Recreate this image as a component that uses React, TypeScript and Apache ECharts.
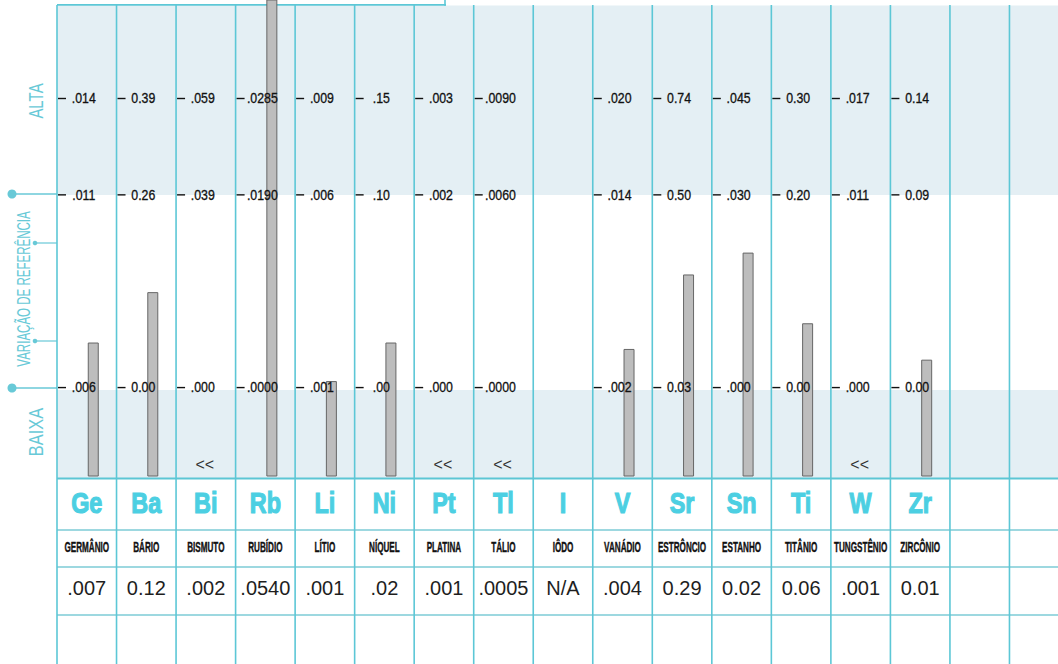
import React, { useEffect, useRef } from "react";
import * as echarts from "echarts";

// ---- data ----
const symbols = ["Ge", "Ba", "Bi", "Rb", "Li", "Ni", "Pt", "Tl", "I", "V", "Sr", "Sn", "Ti", "W", "Zr", "", ""];
const names = ["GERMÂNIO", "BÁRIO", "BISMUTO", "RUBÍDIO", "LÍTIO", "NÍQUEL", "PLATINA", "TÁLIO", "IÔDO", "VANÁDIO", "ESTRÔNCIO", "ESTANHO", "TITÂNIO", "TUNGSTÊNIO", "ZIRCÔNIO", "", ""];
const resultLabels = [".007", "0.12", ".002", ".0540", ".001", ".02", ".001", ".0005", "N/A", ".004", "0.29", "0.02", "0.06", ".001", "0.01", "", ""];
const resultValues: (number | null)[] = [0.007, 0.12, 0.002, 0.054, 0.001, 0.02, 0.001, 0.0005, null, 0.004, 0.29, 0.02, 0.06, 0.001, 0.01, null, null];
const lowLabels = [".006", "0.00", ".000", ".0000", ".001", ".00", ".000", ".0000", "", ".002", "0.03", ".000", "0.00", ".000", "0.00", "", ""];
const midLabels = [".011", "0.26", ".039", ".0190", ".006", ".10", ".002", ".0060", "", ".014", "0.50", ".030", "0.20", ".011", "0.09", "", ""];
const highLabels = [".014", "0.39", ".059", ".0285", ".009", ".15", ".003", ".0090", "", ".020", "0.74", ".045", "0.30", ".017", "0.14", "", ""];
const belowFlags = [false, false, true, false, false, false, true, true, false, false, false, false, false, true, false, false, false];
const sideLabels = ["ALTA", "VARIAÇÃO DE REFERÊNCIA", "BAIXA"];

// ---- scale: each element's reference range normalised (low = 0, mid = 1, high = 1.5) ----
const Y_MIN = -0.49;
const Y_MAX = 1.98;
const RANGE_LEVELS = [0, 1, 1.5];
const rangeLabelSets = [lowLabels, midLabels, highLabels];

function normalise(i: number): number | null {
  const v = resultValues[i];
  if (v == null || lowLabels[i] === "") return null;
  const lo = parseFloat(lowLabels[i]);
  const mid = parseFloat(midLabels[i]);
  const hi = parseFloat(highLabels[i]);
  if (v <= mid) return (v - lo) / (mid - lo);
  return 1 + 0.5 * (v - mid) / (hi - mid);
}

const CHART_W = 1069;
const CYAN_LINE = "#5cc7d6";
const CYAN_TEXT = "#4ccfe2";
const SIDE_TEXT = "#68c9d7";
const BAND = "#e4eff4";
const FONT = "'Liberation Sans', Arial, sans-serif";

function txt(text: string, x: number, y: number, o: any = {}) {
  return {
    type: "text",
    x,
    y,
    scaleX: o.scaleX ?? 1,
    rotation: o.rotation ?? 0,
    style: {
      text,
      x: 0,
      y: 0,
      fill: o.fill ?? "#111",
      stroke: o.stroke ?? null,
      lineWidth: o.lineWidth ?? 0,
      fontSize: o.fontSize ?? 13,
      fontWeight: o.fontWeight ?? "normal",
      fontFamily: o.fontFamily ?? FONT,
      align: o.align ?? "center",
      verticalAlign: "middle",
      textAlign: o.align ?? "center",
      textVerticalAlign: "middle",
    },
  };
}

export default function App() {
  const ref = useRef<HTMLDivElement>(null);

  useEffect(() => {
    const chart = echarts.init(ref.current!, null, { renderer: "svg" });

    const colIdx = symbols.map((_, i) => i);
    const barData = colIdx
      .filter((i) => !belowFlags[i] && normalise(i) != null)
      .map((i) => [i, Math.min(normalise(i) as number, Y_MAX)]);
    const rangeData = colIdx.filter((i) => lowLabels[i] !== "").map((i) => [i, 0]);
    const belowData = colIdx.filter((i) => belowFlags[i]).map((i) => [i, Y_MIN]);

    const option: any = {
      animation: false,
      backgroundColor: "#ffffff",
      grid: { left: 57, right: 0, top: 0, bottom: 188, containLabel: false },
      xAxis: {
        type: "category",
        data: symbols.map((s, i) => s || "col" + i),
        boundaryGap: true,
        axisLine: { show: false },
        axisTick: { show: false },
        axisLabel: { show: false },
        splitLine: { show: false },
      },
      yAxis: { type: "value", min: Y_MIN, max: Y_MAX, show: false },
      graphic: [
        // background bands
        { type: "rect", z: 0, shape: { x: 57, y: 5.5, width: CHART_W - 57, height: 189.5 }, style: { fill: BAND } },
        { type: "rect", z: 0, shape: { x: 57, y: 390, width: CHART_W - 57, height: 88 }, style: { fill: BAND } },
        // top rule with its notch
        { type: "rect", z: 1, shape: { x: 57, y: 4, width: 389, height: 1.8 }, style: { fill: CYAN_LINE } },
        { type: "rect", z: 1, shape: { x: 444.2, y: 0, width: 1.6, height: 5.8 }, style: { fill: CYAN_LINE } },
        // table rules
        { type: "line", z: 1, shape: { x1: 57, y1: 478.5, x2: CHART_W, y2: 478.5 }, style: { stroke: "#5cc6d4", lineWidth: 2.2 } },
        { type: "line", z: 1, shape: { x1: 57, y1: 530, x2: CHART_W, y2: 530 }, style: { stroke: "#7ccbd6", lineWidth: 1.3 } },
        { type: "line", z: 1, shape: { x1: 57, y1: 567, x2: CHART_W, y2: 567 }, style: { stroke: "#7ccbd6", lineWidth: 1.3 } },
        { type: "line", z: 1, shape: { x1: 57, y1: 615, x2: CHART_W, y2: 615 }, style: { stroke: "#7ccbd6", lineWidth: 1.3 } },
        // side connectors
        { type: "line", z: 1, shape: { x1: 12, y1: 194, x2: 57, y2: 194 }, style: { stroke: SIDE_TEXT, lineWidth: 1.5 } },
        { type: "line", z: 1, shape: { x1: 12, y1: 388, x2: 57, y2: 388 }, style: { stroke: SIDE_TEXT, lineWidth: 1.5 } },
        { type: "circle", z: 1, shape: { cx: 12, cy: 194, r: 4.5 }, style: { fill: SIDE_TEXT } },
        { type: "circle", z: 1, shape: { cx: 12, cy: 388, r: 4.5 }, style: { fill: SIDE_TEXT } },
        { type: "line", z: 1, shape: { x1: 35, y1: 243, x2: 57, y2: 243 }, style: { stroke: SIDE_TEXT, lineWidth: 1.2 } },
        { type: "line", z: 1, shape: { x1: 35, y1: 341, x2: 57, y2: 341 }, style: { stroke: SIDE_TEXT, lineWidth: 1.2 } },
        { type: "circle", z: 1, shape: { cx: 35, cy: 243, r: 2.3 }, style: { fill: SIDE_TEXT } },
        { type: "circle", z: 1, shape: { cx: 35, cy: 341, r: 2.3 }, style: { fill: SIDE_TEXT } },
        // side labels
        { ...txt(sideLabels[0], 36, 101, { rotation: Math.PI / 2, scaleX: 0.75, fontSize: 20, fill: SIDE_TEXT }), z: 1 },
        { ...txt(sideLabels[1], 23, 289, { rotation: Math.PI / 2, scaleX: 0.64, fontSize: 18, fill: SIDE_TEXT }), z: 1 },
        { ...txt(sideLabels[2], 36, 432, { rotation: Math.PI / 2, scaleX: 0.82, fontSize: 20, fill: SIDE_TEXT }), z: 1 },
      ],
      series: [
        {
          // table: column rules, symbols, names, results
          type: "custom",
          name: "table",
          z: 2,
          clip: false,
          silent: true,
          data: colIdx.map((i) => [i, Y_MIN]),
          renderItem: (_p: any, api: any) => {
            const i = api.value(0) as number;
            const [cx, base] = api.coord([i, Y_MIN]);
            const top = api.coord([i, Y_MAX])[1];
            const w = api.size([1, 0])[0];
            const left = cx - w / 2;
            const H = api.getHeight();
            const children: any[] = [
              { type: "line", shape: { x1: left, y1: top + 5, x2: left, y2: H }, style: { stroke: CYAN_LINE, lineWidth: 1.6 } },
            ];
            if (symbols[i]) children.push(txt(symbols[i], cx, base + 27, { fontSize: 30, fontWeight: "bold", fill: CYAN_TEXT, stroke: CYAN_TEXT, lineWidth: 1.2, scaleX: 0.78 }));
            if (names[i]) children.push(txt(names[i], cx, base + 71, { fontSize: 14, fontWeight: "bold", fill: "#111", stroke: "#111", lineWidth: 0.4, scaleX: 0.58 }));
            if (resultLabels[i]) children.push(txt(resultLabels[i], cx, base + 112, { fontSize: 20, fill: "#1e1e1e" }));
            return { type: "group", children };
          },
        },
        {
          // result bars on the normalised reference scale
          type: "custom",
          name: "bars",
          z: 3,
          clip: false,
          silent: true,
          data: barData,
          renderItem: (_p: any, api: any) => {
            const i = api.value(0) as number;
            const [cx, topY] = api.coord([i, api.value(1)]);
            const bottom = api.coord([i, Y_MIN])[1];
            return {
              type: "rect",
              shape: { x: cx + 1.5, y: topY, width: 10, height: bottom - topY },
              style: { fill: "#bdbdbd", stroke: "#666", lineWidth: 1 },
            };
          },
        },
        {
          // reference range ticks and labels
          type: "custom",
          name: "ranges",
          z: 4,
          clip: false,
          silent: true,
          data: rangeData,
          renderItem: (_p: any, api: any) => {
            const i = api.value(0) as number;
            const w = api.size([1, 0])[0];
            const children: any[] = [];
            RANGE_LEVELS.forEach((lv, k) => {
              const [cx, y0] = api.coord([i, lv]);
              const y = y0 + 6;
              const left = cx - w / 2;
              children.push({ type: "line", shape: { x1: left + 1, y1: y, x2: left + 9, y2: y }, style: { stroke: "#111", lineWidth: 1.4 } });
              children.push(txt(rangeLabelSets[k][i], cx - 3, y, { fontSize: 14, fill: "#111", stroke: "#111", lineWidth: 0.3, scaleX: 0.88 }));
            });
            return { type: "group", children };
          },
        },
        {
          // below-range markers
          type: "custom",
          name: "below",
          z: 4,
          clip: false,
          silent: true,
          data: belowData,
          renderItem: (_p: any, api: any) => {
            const i = api.value(0) as number;
            const [cx, base] = api.coord([i, Y_MIN]);
            return txt("<<", cx - 1, base - 12, { fontSize: 16, fill: "#333" });
          },
        },
      ],
    };

    chart.setOption(option);
    return () => chart.dispose();
  }, []);

  return (
    <div style={{ position: "fixed", left: 0, top: 0, width: 1058, height: 664, overflow: "hidden", background: "#fff" }}>
      <div ref={ref} style={{ width: CHART_W, height: 664 }} />
    </div>
  );
}
